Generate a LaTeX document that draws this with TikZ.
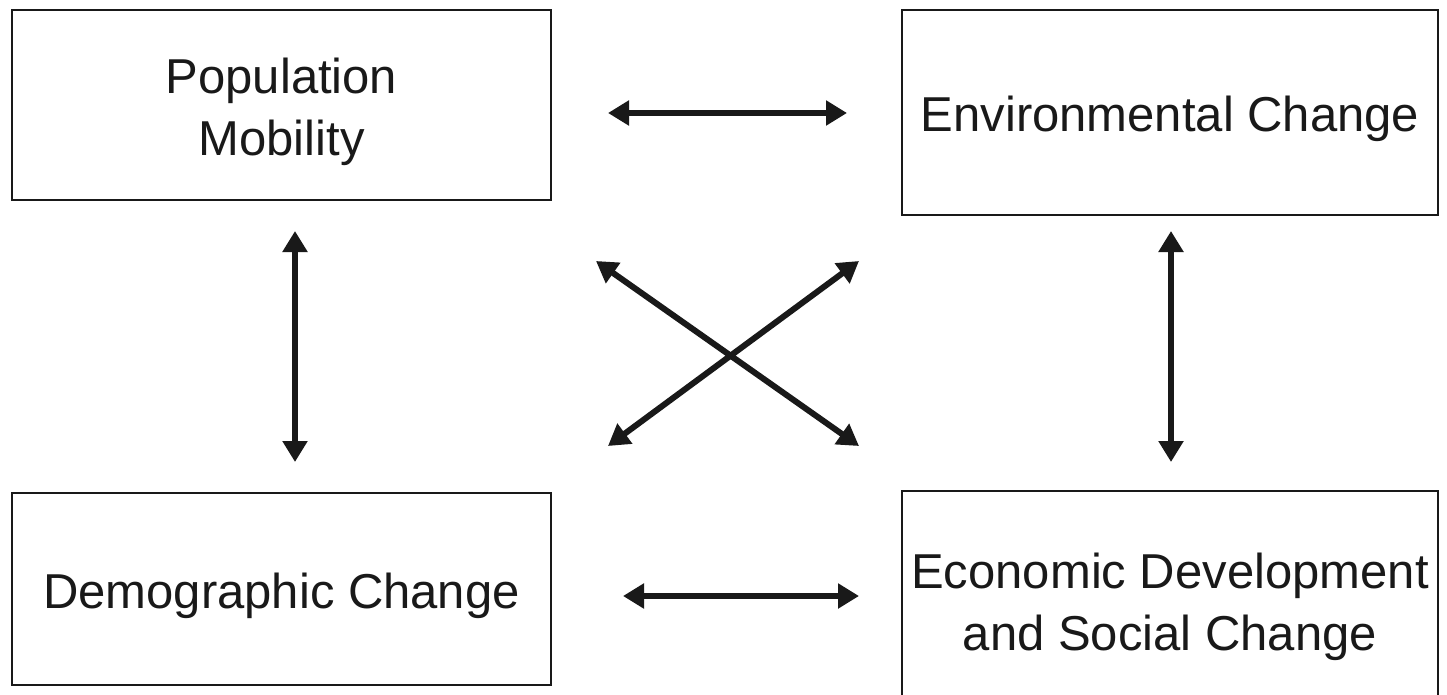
\documentclass[tikz,border=0pt]{standalone}
\usepackage{fontspec}
\setmainfont{Liberation Sans}
\usetikzlibrary{arrows.meta}

\tikzset{
	factor/.style={draw=black!90, line width=2pt, inner sep=0pt,
		minimum width=539pt, minimum height=190pt},
	caption/.style={align=center, inner sep=0pt,
		font=\fontsize{49}{62}\selectfont, text=black!90},
	link/.style={line width=6pt, draw=black!90,
		{Triangle[length=21pt,width=24pt]}-{Triangle[length=21pt,width=24pt]}},
}

\begin{document}
\begin{tikzpicture}[x=1pt, y=-1pt]
	% page frame
	\clip (0,0) rectangle (1447,695);
	\fill[white] (0,0) rectangle (1447,695);
	
	% draw boxes
	\node[factor, label={[caption, yshift=-7pt]center:Population\\Mobility}] (pop) at (281.5,105) {};
	\node[factor, minimum width=536pt, minimum height=205pt,
		label={[caption, yshift=-6pt]center:Environmental Change}] (env) at (1170,112.5) {};
	\node[factor, minimum height=192pt,
		label={[caption, yshift=-7pt]center:Demographic Change}] (dem) at (281.5,589) {};
	\node[factor, minimum width=536pt, minimum height=238pt,
		label={[caption, yshift=3pt]center:Economic Development\\and Social Change}] (eco) at (1170,610) {};
	
	% draw horizontal arrows
	\draw[link] ([shift={(56,8)}]pop.east) -- ([shift={(-54,0.5)}]env.west);
	\draw[link] ([shift={(71,7)}]dem.east) -- ([shift={(-42,-14)}]eco.west);
	
	% draw vertical arrows
	\draw[link] ([shift={(13.5,30)}]pop.south) -- ([shift={(13.5,-30)}]dem.north);
	\draw[link] ([shift={(1,15)}]env.south) -- ([shift={(1,-28)}]eco.north);
	
	% draw crossing arrows
	\draw[link] ([shift={(44,60)}]pop.south east) -- ([shift={(-42,-44)}]eco.north west);
	\draw[link] ([shift={(-42,45)}]env.south west) -- ([shift={(56,-46)}]dem.north east);
\end{tikzpicture}
\end{document}
